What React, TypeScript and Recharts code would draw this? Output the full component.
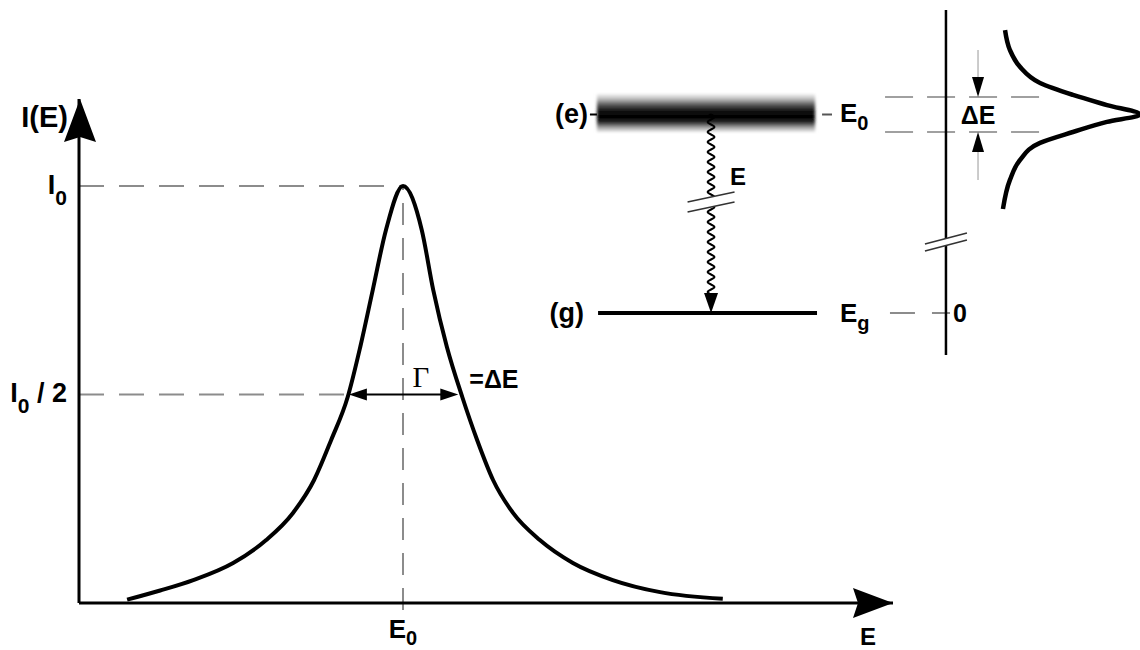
import React from 'react';
import { ComposedChart, Line, XAxis, YAxis, ReferenceLine, ReferenceDot, ReferenceArea } from 'recharts';

const SANS = "'Liberation Sans', Arial, Helvetica, sans-serif";
const SERIF = "'Liberation Serif', 'Times New Roman', serif";
const GREY = '#8c8c8c';

// emission line I(E): energy in units of Γ/2 from E0, intensity in units of I0
const lineEnergy = [-4.84, -4.26, -3.68, -2.98, -2.4, -1.93, -1.56, -1.26, -0.97, -0.75, -0.53, -0.3, 0, 0.33, 0.53, 0.77, 1.04, 1.3, 1.58, 1.93, 2.4, 2.98, 3.68, 4.51, 5.61];
const lineIntensity = [0.008, 0.03, 0.055, 0.096, 0.151, 0.216, 0.295, 0.391, 0.494, 0.614, 0.751, 0.894, 1.0, 0.894, 0.751, 0.614, 0.494, 0.391, 0.295, 0.216, 0.151, 0.096, 0.055, 0.026, 0.01];

const intensityTicks = [0.5, 1];
const energyTicks = [0];
const energyRange = [-5.684, 8.596];
const intensityRange = [0, 1.2086];
const halfMax = 0.5;
const gammaEnds = [-0.95, 0.97];

// level scheme: energy in units of ΔE from E0, x in units of the profile peak
const levelEnergy = [0, -5.67]; // (e), (g)
const levelSpan = [-2.879, -1.321];
const profileEnergy = [2.41, 1.84, 1.36, 0.9, 0.56, 0.27, 0, -0.21, -0.5, -0.81, -1.3, -1.87, -2.7];
const profileIntensity = [0.036, 0.071, 0.143, 0.286, 0.521, 0.764, 1.0, 0.764, 0.521, 0.286, 0.143, 0.071, 0.021];
const deltaEEdges = [0.5, -0.5];
const schemeX = [-3.4286, 1];
const schemeY = [-7.3, 3.2714];

const emission = lineEnergy.map((e, k) => ({ e, i: lineIntensity[k] }));
const profile = profileEnergy.map((energy, k) => ({ energy, intensity: profileIntensity[k] }));

function headPath(tx: number, ty: number, ux: number, uy: number, len: number, half: number) {
  const bx = tx - ux * len;
  const by = ty - uy * len;
  const nx = -uy;
  const ny = ux;
  return `M${tx},${ty}L${bx + nx * half},${by + ny * half}L${bx - nx * half},${by - ny * half}Z`;
}

const arrowLine = (o: { both?: boolean; len: number; half: number; stroke: string; width: number }) => (p: any) => {
  const { x1, y1, x2, y2 } = p;
  const L = Math.hypot(x2 - x1, y2 - y1) || 1;
  const ux = (x2 - x1) / L;
  const uy = (y2 - y1) / L;
  const inset = o.len - 3;
  const sx = o.both ? x1 + ux * inset : x1;
  const sy = o.both ? y1 + uy * inset : y1;
  return (
    <g>
      <line x1={sx} y1={sy} x2={x2 - ux * inset} y2={y2 - uy * inset} stroke={o.stroke} strokeWidth={o.width} />
      <path d={headPath(x2, y2, ux, uy, o.len, o.half)} fill="#000" />
      {o.both && <path d={headPath(x1, y1, -ux, -uy, o.len, o.half)} fill="#000" />}
    </g>
  );
};

const wavyArrow = (p: any) => {
  const { x1, y1, y2 } = p;
  const len = 20;
  const end = y2 - len + 2;
  let d = `M${x1},${y1}`;
  for (let y = y1; y < end; y += 1) {
    d += `L${(x1 + 3.4 * Math.sin(((y - y1) / 10) * 2 * Math.PI)).toFixed(2)},${y.toFixed(2)}`;
  }
  d += `L${x1},${end}`;
  return (
    <g>
      <path d={d} fill="none" stroke="#000" strokeWidth={2} />
      <path d={headPath(x1, y2, 0, 1, len, 7)} fill="#000" />
    </g>
  );
};

const breakMark = (hx: number, hy: number, gap: number) => (p: any) => {
  const { cx, cy } = p;
  const t = cy - gap / 2;
  const b = cy + gap / 2;
  return (
    <g>
      <path d={`M${cx - hx},${t + hy}L${cx + hx},${t - hy}L${cx + hx},${b - hy}L${cx - hx},${b + hy}Z`} fill="#fff" />
      <line x1={cx - hx} y1={t + hy} x2={cx + hx} y2={t - hy} stroke="#333" strokeWidth={1.6} />
      <line x1={cx - hx} y1={b + hy} x2={cx + hx} y2={b - hy} stroke="#333" strokeWidth={1.6} />
    </g>
  );
};

const axisHead = (dir: 'up' | 'right') => (p: any) => {
  const { cx, cy } = p;
  const d = dir === 'up'
    ? `M${cx + 1},${cy}L${cx + 17},${cy + 43}L${cx + 1},${cy + 38}L${cx - 15},${cy + 43}Z`
    : `M${cx},${cy}L${cx - 40},${cy + 15}L${cx - 35},${cy}L${cx - 40},${cy - 15}Z`;
  return <path d={d} fill="#000" />;
};

const textAt = (content: React.ReactNode, dx: number, dy: number, anchor = 'start', size = 26, family = SANS, weight: any = 'bold') => (p: any) => (
  <text x={p.cx + dx} y={p.cy + dy} textAnchor={anchor} fontFamily={family} fontWeight={weight} fontSize={size} fill="#000">
    {content}
  </text>
);

const sub = (s: string, dy = 9, size = 20) => <tspan dy={dy} fontSize={size}>{s}</tspan>;

function IntensityTick(props: any) {
  const { x, y, payload } = props;
  const half = payload.value === halfMax;
  return (
    <text x={x - 12} y={y + 8} textAnchor="end" fontFamily={SANS} fontWeight="bold" fontSize={27} fill="#000">
      I{sub('0', 11, 21)}
      {half && <tspan dy={-11}> / 2</tspan>}
    </text>
  );
}

function EnergyTick(props: any) {
  const { x, y } = props;
  return (
    <text x={x} y={y + 35} textAnchor="middle" fontFamily={SANS} fontWeight="bold" fontSize={26} fill="#000">
      E{sub('0', 7, 20)}
    </text>
  );
}

function SpectrumChart() {
  return (
    <ComposedChart width={1140} height={650} data={emission} margin={{ top: 99, right: 247, bottom: 0, left: 0 }}>
      <XAxis
        type="number"
        dataKey="e"
        domain={energyRange}
        allowDataOverflow
        ticks={energyTicks}
        tick={<EnergyTick />}
        tickLine={false}
        tickSize={0}
        tickMargin={0}
        height={47}
        axisLine={{ stroke: '#000', strokeWidth: 3 }}
      />
      <YAxis
        type="number"
        domain={intensityRange}
        allowDataOverflow
        ticks={intensityTicks}
        interval={0}
        tick={<IntensityTick />}
        tickLine={false}
        tickSize={0}
        tickMargin={0}
        width={79}
        axisLine={{ stroke: '#000', strokeWidth: 3 }}
      />
      <ReferenceLine segment={[{ x: energyRange[0], y: 1 }, { x: 0, y: 1 }]} stroke={GREY} strokeWidth={2} strokeDasharray="25 15" ifOverflow="visible" />
      <ReferenceLine segment={[{ x: energyRange[0], y: halfMax }, { x: lineEnergy[8], y: halfMax }]} stroke={GREY} strokeWidth={2} strokeDasharray="25 15" ifOverflow="visible" />
      <ReferenceLine segment={[{ x: 0, y: -0.017 }, { x: 0, y: 1 }]} stroke={GREY} strokeWidth={2} strokeDasharray="22 13" ifOverflow="visible" />
      <ReferenceLine
        segment={[{ x: gammaEnds[0], y: halfMax }, { x: gammaEnds[1], y: halfMax }]}
        ifOverflow="visible"
        shape={arrowLine({ both: true, len: 18, half: 6, stroke: '#000', width: 2 })}
      />
      <Line type="monotone" dataKey="i" stroke="#000" strokeWidth={4} dot={false} activeDot={false} isAnimationActive={false} />
      <ReferenceDot x={energyRange[0]} y={intensityRange[1]} ifOverflow="visible" shape={axisHead('up')} />
      <ReferenceDot x={energyRange[1]} y={0} ifOverflow="visible" shape={axisHead('right')} />
      <ReferenceDot x={energyRange[0]} y={intensityRange[1]} ifOverflow="visible" shape={textAt('I(E)', -11, 28, 'end', 29)} />
      <ReferenceDot x={energyRange[1]} y={0} ifOverflow="visible" shape={textAt('E', -25, 42, 'middle', 24)} />
      <ReferenceDot x={0} y={halfMax} ifOverflow="visible" shape={textAt('Γ', 18, -7, 'middle', 29, SERIF, 'normal')} />
      <ReferenceDot x={lineEnergy[16]} y={halfMax} ifOverflow="visible" shape={textAt('=ΔE', 7, -6, 'start', 25)} />
    </ComposedChart>
  );
}

function LevelScheme() {
  const [eLevel, gLevel] = levelEnergy;
  return (
    <ComposedChart layout="vertical" width={620} height={370} data={profile} margin={{ top: 0, right: 0, bottom: 0, left: 0 }}>
      <XAxis type="number" domain={schemeX} allowDataOverflow hide />
      <YAxis type="number" dataKey="energy" domain={schemeY} allowDataOverflow hide reversed />
      {/* photon emitted between the levels */}
      <ReferenceLine segment={[{ x: -2.064, y: eLevel }, { x: -2.064, y: gLevel }]} ifOverflow="visible" shape={wavyArrow} />
      <ReferenceDot x={-2.064} y={-2.5} ifOverflow="visible" shape={breakMark(23.5, 5, 10)} />
      <ReferenceArea
        x1={levelSpan[0]}
        x2={levelSpan[1]}
        y1={-0.529}
        y2={0.614}
        ifOverflow="visible"
        shape={(p: any) => <rect x={p.x} y={p.y} width={p.width} height={p.height} fill="url(#levelBand)" filter="url(#soften)" />}
      />
      <ReferenceLine segment={[{ x: -2.929, y: eLevel }, { x: levelSpan[0], y: eLevel }]} stroke="#000" strokeWidth={2} ifOverflow="visible" />
      <ReferenceLine segment={[{ x: -1.271, y: eLevel }, { x: -1.2, y: eLevel }]} stroke="#555" strokeWidth={2} ifOverflow="visible" />
      <ReferenceLine segment={[{ x: -2.871, y: gLevel }, { x: -1.307, y: gLevel }]} stroke="#000" strokeWidth={4} ifOverflow="visible" />
      <ReferenceLine segment={[{ x: -0.786, y: gLevel }, { x: -0.357, y: gLevel }]} stroke={GREY} strokeWidth={2} strokeDasharray="25 17" ifOverflow="visible" />
      {deltaEEdges.map((v) => (
        <ReferenceLine key={v} segment={[{ x: -0.821, y: v }, { x: 0.286, y: v }]} stroke="#a0a0a0" strokeWidth={2} strokeDasharray="28 14" ifOverflow="visible" />
      ))}
      {/* energy axis with a break */}
      <ReferenceLine segment={[{ x: -0.386, y: 2.986 }, { x: -0.386, y: -6.871 }]} stroke="#000" strokeWidth={2.5} ifOverflow="visible" />
      <ReferenceDot x={-0.386} y={-3.643} ifOverflow="visible" shape={breakMark(21, 5.5, 7)} />
      <ReferenceLine segment={[{ x: -0.157, y: 1.843 }, { x: -0.157, y: deltaEEdges[0] }]} ifOverflow="visible" shape={arrowLine({ len: 20, half: 6, stroke: '#aaa', width: 1.2 })} />
      <ReferenceLine segment={[{ x: -0.157, y: -1.871 }, { x: -0.157, y: deltaEEdges[1] }]} ifOverflow="visible" shape={arrowLine({ len: 20, half: 6, stroke: '#aaa', width: 1.2 })} />
      <Line type="monotone" dataKey="intensity" stroke="#000" strokeWidth={4.5} dot={false} activeDot={false} isAnimationActive={false} />
      <ReferenceDot x={-2.929} y={eLevel} ifOverflow="visible" shape={textAt('(e)', -2, 9, 'end', 27)} />
      <ReferenceDot x={-1.2} y={eLevel} ifOverflow="visible" shape={textAt(<>E{sub('0', 8)}</>, 8, 8, 'start', 26)} />
      <ReferenceDot x={-2.871} y={gLevel} ifOverflow="visible" shape={textAt('(g)', -14, 9, 'end', 27)} />
      <ReferenceDot x={-1.307} y={gLevel} ifOverflow="visible" shape={textAt(<>E{sub('g', 8)}</>, 23, 9, 'start', 26)} />
      <ReferenceDot x={-0.357} y={gLevel} ifOverflow="visible" shape={textAt('0', 3, 9, 'start', 25)} />
      <ReferenceDot x={-2.064} y={-1.786} ifOverflow="visible" shape={textAt('E', 19, 8, 'start', 24)} />
      <ReferenceDot x={-0.157} y={eLevel} ifOverflow="visible" shape={textAt('ΔE', 0, 10, 'middle', 25)} />
    </ComposedChart>
  );
}

export default function App() {
  return (
    <div style={{ position: 'absolute', left: 0, top: 0, width: 1140, height: 650, background: '#fff', overflow: 'hidden' }}>
      <svg width={0} height={0} style={{ position: 'absolute' }}>
        <defs>
          <linearGradient id="levelBand" x1="0" y1="0" x2="0" y2="1">
            <stop offset="0" stopColor="#fff" />
            <stop offset="0.15" stopColor="#bbb" />
            <stop offset="0.3" stopColor="#555" />
            <stop offset="0.45" stopColor="#111" />
            <stop offset="0.6" stopColor="#000" />
            <stop offset="0.72" stopColor="#222" />
            <stop offset="0.85" stopColor="#999" />
            <stop offset="1" stopColor="#fff" />
          </linearGradient>
          <filter id="soften" x="-5%" y="-20%" width="110%" height="140%">
            <feGaussianBlur stdDeviation="1.5 1" />
          </filter>
        </defs>
      </svg>
      <div style={{ position: 'absolute', left: 0, top: 0 }}>
        <SpectrumChart />
      </div>
      <div style={{ position: 'absolute', left: 520, top: 0 }}>
        <LevelScheme />
      </div>
    </div>
  );
}
